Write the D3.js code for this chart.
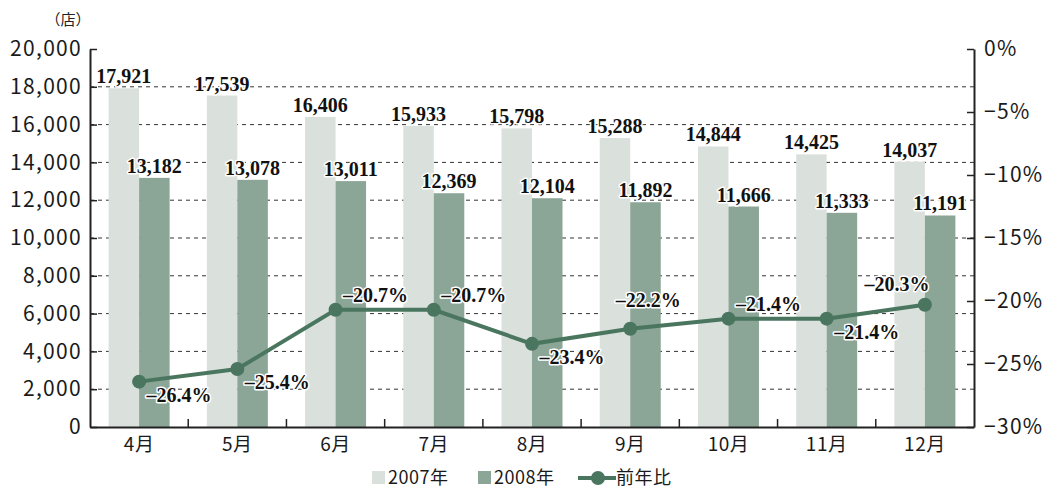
<!DOCTYPE html>
<html lang="ja">
<head>
<meta charset="UTF-8">
<title>店舗数</title>
<script src="https://cdnjs.cloudflare.com/ajax/libs/d3/7.8.5/d3.min.js"></script>
<style>
  body { margin: 0; background: #fff; }
  svg { font-family: "Noto Sans CJK JP", "Noto Sans", sans-serif; }
</style>
</head>
<body>
<div id="chart"></div>
<script>
const months = ["4月", "5月", "6月", "7月", "8月", "9月", "10月", "11月", "12月"];
const stores2007 = [17921, 17539, 16406, 15933, 15798, 15288, 14844, 14425, 14037];
const stores2008 = [13182, 13078, 13011, 12369, 12104, 11892, 11666, 11333, 11191];
const yoy = [-26.4, -25.4, -20.7, -20.7, -23.4, -22.2, -21.4, -21.4, -20.3];
// where each percent label sits relative to its dot
const yoyPos = ["br", "br", "ar", "ar", "br", "a", "ar", "br", "al"];
const leftTicks = [0, 2000, 4000, 6000, 8000, 10000, 12000, 14000, 16000, 18000, 20000];
const rightTicks = [0, -5, -10, -15, -20, -25, -30];

const width = 1045, height = 488;
const m = {left: 90, right: 71, top: 49, bottom: 61};

const svg = d3.select("#chart").append("svg")
  .attr("width", width).attr("height", height);

const x = d3.scaleBand().domain(months).range([m.left, width - m.right]);
const y = d3.scaleLinear().domain([0, 20000]).range([height - m.bottom, m.top]);
const y2 = d3.scaleLinear().domain([-30, 0]).range([height - m.bottom, m.top]);
const barW = 30.5;

const fmt = d3.format(",");
const pct = d => "\u2013" + Math.abs(d).toFixed(1) + "%";

// dashed grid
svg.append("g").selectAll("line")
  .data(leftTicks.filter(d => d > 0 && d < 20000))
  .join("line")
  .attr("x1", m.left).attr("x2", width - m.right)
  .attr("y1", d => y(d)).attr("y2", d => y(d))
  .attr("stroke", "#333").attr("stroke-width", 1)
  .attr("stroke-dasharray", "4,4");

// bars
const g = svg.append("g").selectAll("g").data(months).join("g");
g.append("rect")
  .attr("x", d => x(d) + x.bandwidth() / 2 - barW)
  .attr("y", (d, i) => y(stores2007[i]))
  .attr("width", barW)
  .attr("height", (d, i) => y(0) - y(stores2007[i]))
  .attr("fill", "#dae1dc");
g.append("rect")
  .attr("x", d => x(d) + x.bandwidth() / 2)
  .attr("y", (d, i) => y(stores2008[i]))
  .attr("width", barW)
  .attr("height", (d, i) => y(0) - y(stores2008[i]))
  .attr("fill", "#8ba596");

// axes
const axL = svg.append("g").attr("transform", `translate(${m.left},0)`)
  .call(d3.axisLeft(y).tickValues(leftTicks).tickFormat(fmt).tickSizeInner(-7).tickSizeOuter(0).tickPadding(8));
const axR = svg.append("g").attr("transform", `translate(${width - m.right},0)`)
  .call(d3.axisRight(y2).tickValues(rightTicks).tickFormat(d => (d < 0 ? "\u2212" + (-d) : d) + "%").tickSizeInner(-7).tickSizeOuter(0).tickPadding(10));
const axB = svg.append("g").attr("transform", `translate(0,${height - m.bottom})`)
  .call(d3.axisBottom(x).tickSize(0).tickPadding(8));
[axL, axR, axB].forEach(a => {
  a.attr("font-family", null);
  a.select(".domain").attr("stroke", "#222").attr("stroke-width", 2);
  a.selectAll(".tick line").attr("stroke", "#222").attr("stroke-width", 1.5);
  a.selectAll("text").attr("fill", "#1a1a1a");
});
axL.selectAll("text").style("font-size", "21px").style("letter-spacing", "1.3px");
axR.selectAll("text").style("font-size", "21px").style("letter-spacing", "1.3px");
axB.selectAll("text").style("font-size", "19px").style("letter-spacing", "0.5px").attr("dy", "0.85em");
// small ticks between months
svg.append("g").selectAll("line").data(months.slice(1)).join("line")
  .attr("x1", d => x(d)).attr("x2", d => x(d))
  .attr("y1", y(0)).attr("y2", y(0) - 8)
  .attr("stroke", "#222").attr("stroke-width", 1.5);

svg.append("text").attr("x", 68).attr("y", 25).attr("text-anchor", "middle")
  .style("font-size", "15px").attr("fill", "#222").text("（店）");

// line
const cx = d => x(d) + x.bandwidth() / 2;
svg.append("path")
  .datum(months)
  .attr("d", d3.line().x(cx).y((d, i) => y2(yoy[i])))
  .attr("fill", "none").attr("stroke", "#4a7660").attr("stroke-width", 4);
svg.append("g").selectAll("circle").data(months).join("circle")
  .attr("cx", cx).attr("cy", (d, i) => y2(yoy[i])).attr("r", 7)
  .attr("fill", "#4a7660");

// value labels
function label(sel) {
  sel.style("font-family", "'Liberation Serif', 'Times New Roman', serif")
    .style("font-weight", "bold").style("font-size", "20px").attr("fill", "#111")
    .attr("stroke", "#fff").attr("stroke-width", 3).attr("paint-order", "stroke")
    .attr("stroke-linejoin", "round")
    .attr("text-anchor", "middle");
}
svg.append("g").selectAll("text").data(months).join("text")
  .attr("x", d => x(d) + x.bandwidth() / 2 - barW / 2)
  .attr("y", (d, i) => y(stores2007[i]) - 5)
  .text((d, i) => fmt(stores2007[i])).call(label);
svg.append("g").selectAll("text").data(months).join("text")
  .attr("x", d => x(d) + x.bandwidth() / 2 + barW / 2)
  .attr("y", (d, i) => y(stores2008[i]) - 5)
  .text((d, i) => fmt(stores2008[i])).call(label);

// percent labels
const off = {br: [40, 20], ar: [40, -8], a: [18, -22], al: [-28, -14]};
svg.append("g").selectAll("text").data(months).join("text")
  .attr("x", (d, i) => cx(d) + off[yoyPos[i]][0])
  .attr("y", (d, i) => y2(yoy[i]) + off[yoyPos[i]][1])
  .text((d, i) => pct(yoy[i])).call(label);

// legend
const lg = svg.append("g").attr("transform", "translate(0,478)");
const lt = s => s.attr("dy", "0.35em").style("font-size", "18px").style("letter-spacing", "0.5px").attr("fill", "#1a1a1a");
lg.append("rect").attr("x", 372).attr("y", -7).attr("width", 13).attr("height", 13).attr("fill", "#dae1dc");
lg.append("text").attr("x", 388).attr("y", 0).text("2007年").call(lt);
lg.append("rect").attr("x", 478).attr("y", -7).attr("width", 13).attr("height", 13).attr("fill", "#8ba596");
lg.append("text").attr("x", 494).attr("y", 0).text("2008年").call(lt);
lg.append("line").attr("x1", 578).attr("x2", 616).attr("y1", 0).attr("y2", 0).attr("stroke", "#4a7660").attr("stroke-width", 4);
lg.append("circle").attr("cx", 598).attr("cy", 0).attr("r", 7).attr("fill", "#4a7660");
lg.append("text").attr("x", 616).attr("y", 0).text("前年比").call(lt);
</script>
</body>
</html>
